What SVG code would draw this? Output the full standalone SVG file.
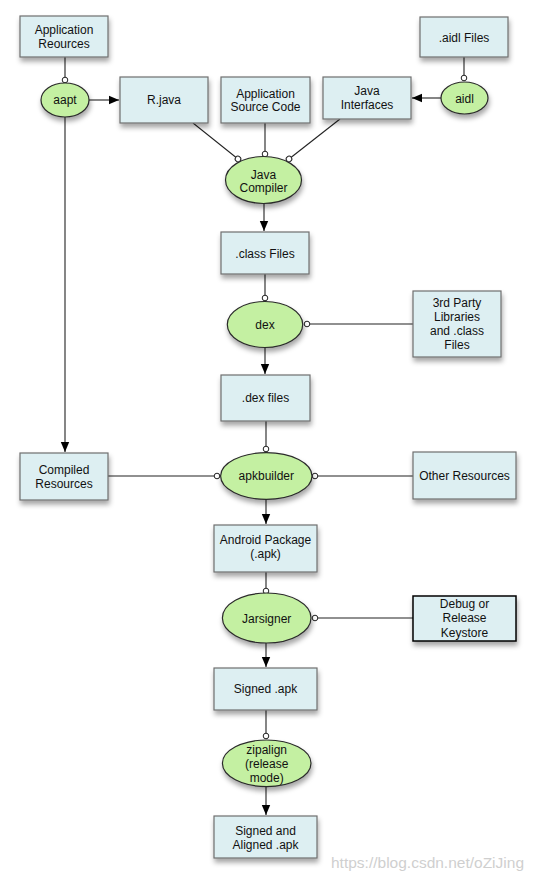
<svg xmlns="http://www.w3.org/2000/svg" width="536" height="882" viewBox="0 0 536 882">
<defs>
<filter id="sh" x="-20%" y="-20%" width="140%" height="160%">
<feDropShadow dx="1" dy="4" stdDeviation="2.5" flood-color="#000" flood-opacity="0.35"/>
</filter>
<marker id="arrow" markerUnits="userSpaceOnUse" markerWidth="10" markerHeight="10" viewBox="0 0 10 10" refX="10" refY="5" orient="auto">
<path d="M0,0.8 L10,5 L0,9.2 Z" fill="#000"/>
</marker>
<marker id="dot" markerUnits="userSpaceOnUse" markerWidth="8" markerHeight="8" viewBox="0 0 8 8" refX="4" refY="4" orient="auto">
<circle cx="4" cy="4" r="2.8" fill="#fff" stroke="#222" stroke-width="1"/>
</marker>
</defs>
<style>
.box{fill:#ddeff2;stroke:#6f6f6f;stroke-width:1.2;filter:url(#sh)}
.box.dark{stroke:#000;stroke-width:1.5}
.tool{fill:#c4f0a2;stroke:#2a2a2a;stroke-width:1.2;filter:url(#sh)}
text{font-family:"Liberation Sans",Arial,sans-serif;font-size:12px;fill:#111;text-anchor:middle}
.wm{font-size:15.5px;fill:#cfcfcf;text-anchor:start}
#connectors line{stroke:#222;stroke-width:1.1}
.a{marker-end:url(#arrow)}
.d{marker-end:url(#dot)}
</style>

<g id="connectors">
<line class="d" x1="65" y1="57" x2="65" y2="80"/>
<line class="a" x1="89" y1="100" x2="119" y2="100"/>
<line class="a" x1="65" y1="117" x2="65" y2="452"/>
<line class="d" x1="464" y1="57" x2="464" y2="78"/>
<line class="a" x1="441" y1="98" x2="412" y2="98"/>
<line class="d" x1="193" y1="123" x2="238" y2="159"/>
<line class="d" x1="265" y1="123" x2="265" y2="154"/>
<line class="d" x1="340" y1="119" x2="289" y2="159"/>
<line class="a" x1="264" y1="204" x2="264" y2="231"/>
<line class="d" x1="265" y1="274" x2="265" y2="298"/>
<line class="d" x1="413" y1="324" x2="307" y2="324"/>
<line class="a" x1="265" y1="348" x2="265" y2="374"/>
<line class="d" x1="266" y1="421" x2="266" y2="449"/>
<line class="d" x1="108" y1="476" x2="217" y2="476"/>
<line class="d" x1="413" y1="476" x2="315" y2="476"/>
<line class="a" x1="266" y1="499" x2="266" y2="524"/>
<line class="d" x1="266" y1="572" x2="266" y2="591"/>
<line class="d" x1="413" y1="618" x2="315" y2="618"/>
<line class="a" x1="266" y1="643" x2="266" y2="667"/>
<line class="d" x1="266" y1="710" x2="266" y2="736"/>
<line class="a" x1="266" y1="787" x2="266" y2="815"/>
</g>

<g id="app-resources"><rect class="box" x="20" y="16" width="88" height="41"/><text x="64" y="34">Application</text><text x="64" y="48">Reources</text></g>
<g id="aapt"><ellipse class="tool" cx="65" cy="100" rx="24" ry="17"/><text x="65" y="104">aapt</text></g>
<g id="r-java"><rect class="box" x="120" y="77" width="88" height="46"/><text x="164" y="104">R.java</text></g>
<g id="app-source"><rect class="box" x="221" y="77" width="89" height="46"/><text x="265.5" y="97.5">Application</text><text x="265.5" y="111">Source Code</text></g>
<g id="java-interfaces"><rect class="box" x="323" y="77" width="88" height="42"/><text x="367" y="95">Java</text><text x="367" y="109">Interfaces</text></g>
<g id="aidl-files"><rect class="box" x="420" y="17" width="88" height="40"/><text x="464" y="42">.aidl Files</text></g>
<g id="aidl"><ellipse class="tool" cx="464.5" cy="98" rx="23.5" ry="16"/><text x="464.5" y="103">aidl</text></g>
<g id="java-compiler"><ellipse class="tool" cx="263.5" cy="180" rx="38" ry="23.5"/><text x="263.5" y="178.5">Java</text><text x="263.5" y="192">Compiler</text></g>
<g id="class-files"><rect class="box" x="221" y="232" width="88" height="42"/><text x="265" y="258">.class Files</text></g>
<g id="dex"><ellipse class="tool" cx="265" cy="324.5" rx="37.7" ry="23"/><text x="265" y="329">dex</text></g>
<g id="third-party"><rect class="box" x="413" y="291" width="88" height="66"/><text x="457" y="307">3rd Party</text><text x="457" y="321">Libraries</text><text x="457" y="335">and .class</text><text x="457" y="349">Files</text></g>
<g id="dex-files"><rect class="box" x="221" y="375" width="89" height="46"/><text x="265.5" y="402">.dex files</text></g>
<g id="compiled-resources"><rect class="box" x="20" y="453" width="88" height="47"/><text x="64" y="474">Compiled</text><text x="64" y="488">Resources</text></g>
<g id="apkbuilder"><ellipse class="tool" cx="266.3" cy="476" rx="45.7" ry="23.3"/><text x="266.3" y="480">apkbuilder</text></g>
<g id="other-resources"><rect class="box" x="413" y="452" width="103" height="47"/><text x="464.5" y="480">Other Resources</text></g>
<g id="android-package"><rect class="box" x="214" y="525" width="103" height="47"/><text x="265.5" y="543.5">Android Package</text><text x="265.5" y="557.5">(.apk)</text></g>
<g id="jarsigner"><ellipse class="tool" cx="266.7" cy="618" rx="44.3" ry="25"/><text x="266.7" y="622.5">Jarsigner</text></g>
<g id="keystore"><rect class="box dark" x="413" y="596" width="103" height="45"/><text x="464.5" y="608">Debug or</text><text x="464.5" y="622">Release</text><text x="464.5" y="636.5">Keystore</text></g>
<g id="signed-apk"><rect class="box" x="214" y="668" width="103" height="42"/><text x="265.5" y="693">Signed .apk</text></g>
<g id="zipalign"><ellipse class="tool" cx="266.7" cy="763.3" rx="44.3" ry="23.3"/><text x="266.7" y="754">zipalign</text><text x="266.7" y="768">(release</text><text x="266.7" y="782">mode)</text></g>
<g id="signed-aligned"><rect class="box" x="214" y="816" width="103" height="42"/><text x="265.5" y="835">Signed and</text><text x="265.5" y="848.5">Aligned .apk</text></g>

<text class="wm" x="331" y="868">https://blog.csdn.net/oZiJing</text>
</svg>
